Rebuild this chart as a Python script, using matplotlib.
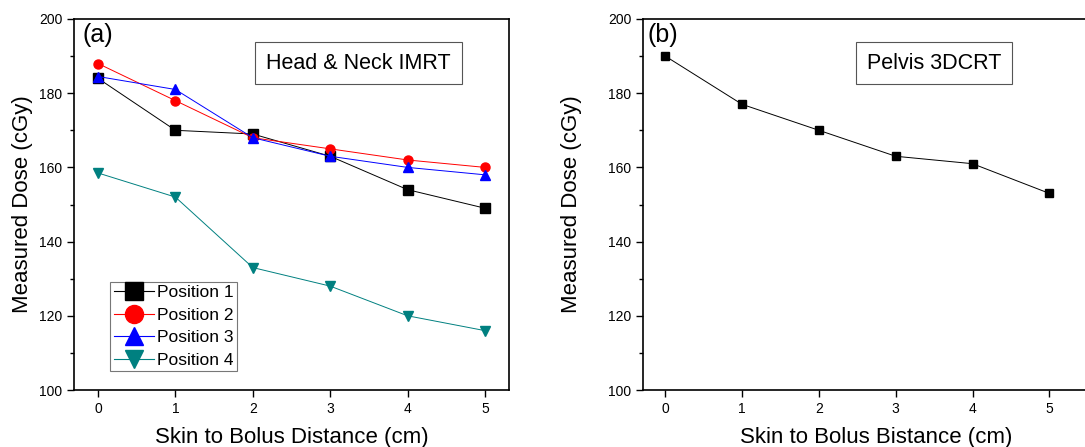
import matplotlib
matplotlib.use("Agg")
import matplotlib.pyplot as plt
from matplotlib.ticker import MultipleLocator
from matplotlib.lines import Line2D

distance = [0, 1, 2, 3, 4, 5]
position_1 = [184, 170, 169, 163, 154, 149]
position_2 = [188, 178, 168, 165, 162, 160]
position_3 = [184.5, 181, 168, 163, 160, 158]
position_4 = [158.5, 152, 133, 128, 120, 116]
pelvis = [190, 177, 170, 163, 161, 153]

series_labels = ["Position 1", "Position 2", "Position 3", "Position 4"]
series_colors = ["black", "red", "blue", "#008080"]
series_markers = ["s", "o", "^", "v"]

plt.rcParams["font.family"] = ["Liberation Sans", "DejaVu Sans"]

W, H = 1085, 447
fig = plt.figure(figsize=(W / 100, H / 100), dpi=100)


def frac(x0, y0, x1, y1):
    return [x0 / W, 1 - y1 / H, (x1 - x0) / W, (y1 - y0) / H]


def style_axes(ax, label_x):
    ax.set_ylim(100, 200)
    ax.yaxis.set_major_locator(MultipleLocator(20))
    ax.yaxis.set_minor_locator(MultipleLocator(10))
    ax.set_xticks(distance)
    ax.tick_params(axis="both", which="both", direction="out", labelsize=10,
                   width=1, top=False, right=False)
    ax.tick_params(which="major", length=5)
    ax.tick_params(which="minor", length=3)
    for sp in ax.spines.values():
        sp.set_linewidth(1.2)
    ax.set_ylabel("Measured Dose (cGy)", fontsize=16)
    ax.yaxis.set_label_coords(label_x, 0.5)


ax1 = fig.add_axes(frac(74, 19, 509, 390))
series = [position_1, position_2, position_3, position_4]
for vals, lab, col, mk in zip(series, series_labels, series_colors, series_markers):
    ax1.plot(distance, vals, color=col, marker=mk, markersize=6.5, linewidth=0.7,
             label=lab)
ax1.set_xlim(-0.31, 5.31)
style_axes(ax1, -0.094)
ax1.set_xlabel("Skin to Bolus Distance (cm)", fontsize=16, labelpad=8)
ax1.text(0.02, 0.99, "(a)", transform=ax1.transAxes, fontsize=18,
         va="top", ha="left")
ax1.text(0.654, 0.881, "Head & Neck IMRT", transform=ax1.transAxes, fontsize=15.5,
         ha="center", va="center",
         bbox=dict(boxstyle="square,pad=0.5", fc="white", ec="#555555", lw=0.8))
handles = [Line2D([0], [0], color=c, marker=m, markersize=13, linewidth=0.8)
           for c, m in zip(series_colors, series_markers)]
leg = ax1.legend(handles, series_labels, loc="lower left",
                 bbox_to_anchor=(0.083, 0.051), fontsize=12.5, frameon=True,
                 fancybox=False, edgecolor="#555555", handlelength=2.3,
                 handletextpad=0.2, labelspacing=0.42, borderpad=0.2,
                 borderaxespad=0)
leg.get_frame().set_linewidth(0.8)

ax2 = fig.add_axes(frac(643, 19, 1110, 390))
ax2.plot(distance, pelvis, color="black", marker="s", markersize=6, linewidth=0.7)
ax2.set_xlim(-0.29, 5.79)
style_axes(ax2, -0.131)
ax2.set_xlabel("Skin to Bolus Bistance (cm)", fontsize=16, labelpad=8)
ax2.text(0.01, 0.99, "(b)", transform=ax2.transAxes, fontsize=18,
         va="top", ha="left")
ax2.text(0.623, 0.881, "Pelvis 3DCRT", transform=ax2.transAxes, fontsize=15.5,
         ha="center", va="center",
         bbox=dict(boxstyle="square,pad=0.5", fc="white", ec="#555555", lw=0.8))

fig.savefig("out.png", dpi=100)
